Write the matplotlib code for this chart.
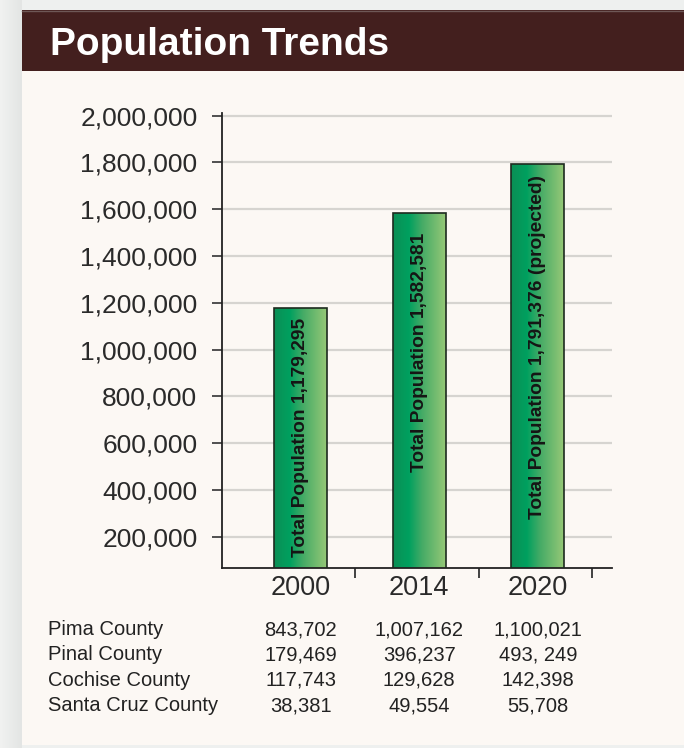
import matplotlib
matplotlib.use('Agg')
import matplotlib.pyplot as plt
import matplotlib.transforms as mtransforms
import numpy as np
from matplotlib.colors import LinearSegmentedColormap, to_rgb
from matplotlib.patches import Rectangle
from matplotlib.ticker import FuncFormatter

plt.rcParams['font.family'] = ['Liberation Sans', 'DejaVu Sans']

# data
years = ['2000', '2014', '2020']
totals = [1179295, 1582581, 1791376]
bar_labels = ['Total Population 1,179,295',
              'Total Population 1,582,581',
              'Total Population 1,791,376 (projected)']
y_ticks = [200000, 400000, 600000, 800000, 1000000,
           1200000, 1400000, 1600000, 1800000, 2000000]
counties = ['Pima County', 'Pinal County', 'Cochise County', 'Santa Cruz County']
pima = ['843,702', '1,007,162', '1,100,021']
pinal = ['179,469', '396,237', '493, 249']
cochise = ['117,743', '129,628', '142,398']
santa_cruz = ['38,381', '49,554', '55,708']
table_rows = [pima, pinal, cochise, santa_cruz]

W, H = 684, 748
fig = plt.figure(figsize=(W / 100, H / 100), dpi=100)
fig.patch.set_facecolor('#eef0ef')

# background drawn in pixel coordinates
bg = fig.add_axes([0, 0, 1, 1], zorder=0)
bg.axis('off')


def rgba_grad(c0, c1, n, horizontal=False, a0=1.0, a1=1.0):
    t = np.linspace(0, 1, n)
    c0, c1 = np.array(to_rgb(c0)), np.array(to_rgb(c1))
    rgb = c0[None, :] * (1 - t[:, None]) + c1[None, :] * t[:, None]
    a = a0 * (1 - t) + a1 * t
    img = np.concatenate([rgb, a[:, None]], axis=1)
    if horizontal:
        return img[None, :, :]
    return img[:, None, :]


# left grey strip
bg.imshow(rgba_grad('#f1f2f1', '#e3e5e4', 64, horizontal=True),
          extent=[0, 22, 748, 0], aspect='auto', interpolation='bilinear')
# panel
bg.add_patch(Rectangle((22, 71), 662, 674, facecolor='#fcf8f4', edgecolor='none'))
# shadow under banner
bg.imshow(rgba_grad('#dcd7d1', '#fcf8f4', 64, a0=1.0, a1=0.0),
          extent=[22, 684, 105, 71], aspect='auto', interpolation='bilinear')
# shadow on right edge
bg.imshow(rgba_grad('#fcf8f4', '#ece8e3', 64, horizontal=True, a0=0.0, a1=1.0),
          extent=[650, 684, 745, 71], aspect='auto', interpolation='bilinear')
# banner
bg.add_patch(Rectangle((22, 10), 662, 61, facecolor='#431f1e', edgecolor='none'))
bg.plot([22, 684], [10.5, 10.5], color='#6e5756', lw=1)
bg.text(50, 55, 'Population Trends', color='white', fontsize=28,
        fontweight='bold', ha='left', va='baseline')
bg.set_xlim(0, W)
bg.set_ylim(H, 0)

# main chart
ax = fig.add_axes([221.7 / W, (H - 567.7) / H, 390 / W, (567.7 - 113) / H], zorder=2)
ax.patch.set_alpha(0)

x = np.arange(len(years))
bw = 0.447
ylo, yhi = 67500, 2011500
xlo, xhi = -0.667, 2.624
label_mid = [(ylo + totals[0]) / 2, 990000, 1010000]

green = LinearSegmentedColormap.from_list(
    'bar_green', [(0.0, '#0b8f55'), (0.3, '#00a05f'), (0.55, '#45ab66'), (1.0, '#96c877')])
grad = np.linspace(0, 1, 256).reshape(1, -1)

bars = ax.bar(x, totals, width=bw, facecolor='none', edgecolor='#1d2a1f',
              linewidth=1.2, zorder=3)
for xi, h, b, lab, ym in zip(x, totals, bars, bar_labels, label_mid):
    im = ax.imshow(grad, cmap=green, extent=[xi - bw / 2, xi + bw / 2, ylo, h],
                   aspect='auto', origin='lower', zorder=2, interpolation='bilinear')
    im.set_clip_path(b)
    ax.text(xi, ym, lab, rotation=90, ha='center', va='center',
            fontsize=13.8, fontweight='bold', color='#151515', zorder=4)

ax.set_xlim(xlo, xhi)
ax.set_ylim(ylo, yhi)

ax.set_yticks(y_ticks)
ax.yaxis.set_major_formatter(FuncFormatter(lambda v, p: f'{int(v):,}'))
ax.tick_params(axis='y', direction='out', length=7, width=1.2, color='#333333',
               labelsize=19, labelcolor='#2a2a2a', pad=10.5)
ax.set_axisbelow(True)
ax.yaxis.grid(True, color='#d6d4d0', linewidth=1.6)

ax.set_xticks(x)
ax.set_xticklabels(years)
ax.tick_params(axis='x', which='major', length=0, labelsize=19.5,
               labelcolor='#2a2a2a', pad=5)
ax.set_xticks([0.46, 1.5, 2.46], minor=True)
ax.tick_params(axis='x', which='minor', direction='out', length=7, width=1.3,
               color='#333333')

for s in ['top', 'right']:
    ax.spines[s].set_visible(False)
for s in ['left', 'bottom']:
    ax.spines[s].set_color('#222222')
    ax.spines[s].set_linewidth(1.3)

# county table under the chart
trans = mtransforms.blended_transform_factory(ax.transData, fig.transFigure)
row_base = [635, 660.5, 686, 711]
for name, vals, yb in zip(counties, table_rows, row_base):
    fy = 1 - yb / H
    fig.text(48 / W, fy, name, fontsize=14.5, color='#222222',
             ha='left', va='baseline')
    for xi, v in zip(x, vals):
        ax.text(xi, fy, v, transform=trans, fontsize=14.5, color='#222222',
                ha='center', va='baseline', clip_on=False)

fig.savefig('out.png', dpi=100, facecolor=fig.get_facecolor())
